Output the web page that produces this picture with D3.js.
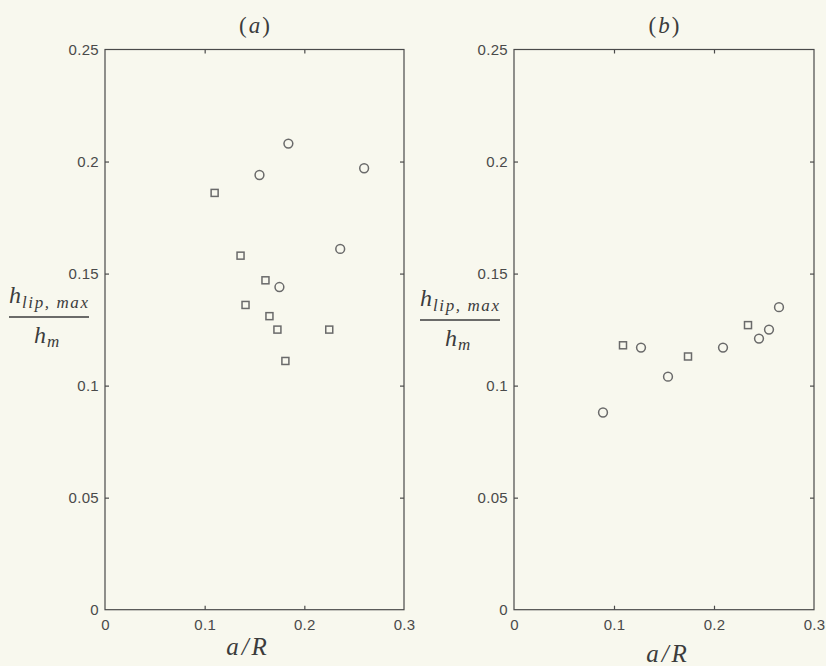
<!DOCTYPE html>
<html>
<head>
<meta charset="utf-8">
<script src="https://cdn.jsdelivr.net/npm/d3@7"></script>
<style>
  html, body { margin: 0; padding: 0; background: #f8f8ee; }
  svg { display: block; }
</style>
</head>
<body>
<svg id="chart" width="826" height="666"></svg>
<script>
// ---- data ----
const panelTitles = ["a", "b"];
const xTicks = [0, 0.1, 0.2, 0.3];
const yTicks = [0, 0.05, 0.1, 0.15, 0.2, 0.25];

const aCircleX = [0.155, 0.184, 0.260, 0.236, 0.175];
const aCircleY = [0.194, 0.208, 0.197, 0.161, 0.144];
const aSquareX = [0.110, 0.136, 0.161, 0.141, 0.165, 0.173, 0.225, 0.181];
const aSquareY = [0.186, 0.158, 0.147, 0.136, 0.131, 0.125, 0.125, 0.111];

const bCircleX = [0.089, 0.127, 0.154, 0.209, 0.245, 0.255, 0.265];
const bCircleY = [0.088, 0.117, 0.104, 0.117, 0.121, 0.125, 0.135];
const bSquareX = [0.109, 0.174, 0.234];
const bSquareY = [0.118, 0.113, 0.127];

// ---- layout ----
const svg = d3.select("#chart");
const plotTop = 49.5, plotBottom = 609.7;
const panels = [
  { key: "a", left: 105, right: 404, cx: aCircleX, cy: aCircleY, sx: aSquareX, sy: aSquareY,
    ylabX: 9, ylabLine: 317, xlabY: 655, xlabCx: 248 },
  { key: "b", left: 514, right: 814, cx: bCircleX, cy: bCircleY, sx: bSquareX, sy: bSquareY,
    ylabX: 420, ylabLine: 320, xlabY: 662, xlabCx: 668 }
];

const axisColor = "#4a4a4a";
const markColor = "#6a6a6a";
const textColor = "#3c3c3c";
const tickFont = "'Liberation Sans', Arial, Helvetica, sans-serif";
const serif = "'Liberation Serif', 'Times New Roman', serif";

panels.forEach((p, i) => {
  const x = d3.scaleLinear().domain([0, 0.3]).range([p.left, p.right]);
  const y = d3.scaleLinear().domain([0, 0.25]).range([plotBottom, plotTop]);
  const g = svg.append("g");

  // frame
  g.append("rect")
    .attr("x", x(0)).attr("y", y(0.25))
    .attr("width", x(0.3) - x(0)).attr("height", y(0) - y(0.25))
    .attr("fill", "none").attr("stroke", axisColor).attr("stroke-width", 1.2);

  const styleAxis = sel => {
    sel.attr("font-size", null).attr("font-family", null);
    sel.select(".domain").remove();
    sel.selectAll(".tick line").attr("stroke", axisColor).attr("stroke-width", 1.2);
    sel.selectAll(".tick text")
      .attr("fill", "#4a4a4a")
      .attr("font-family", tickFont)
      .attr("font-size", "15px")
      .attr("letter-spacing", "0.3px");
  };

  // bottom axis
  g.append("g").attr("transform", `translate(0,${y(0)})`)
    .call(d3.axisBottom(x).tickValues(xTicks).tickSize(-4).tickPadding(10)
      .tickFormat(d => d === 0 ? "0" : d3.format(".1f")(d)))
    .call(styleAxis)
    .call(s => s.selectAll(".tick").filter(d => d === 0 || d === 0.3).select("line").remove());

  // left axis
  g.append("g").attr("transform", `translate(${x(0)},0)`)
    .call(d3.axisLeft(y).tickValues(yTicks).tickSize(-4).tickPadding(6)
      .tickFormat(d => d === 0 ? "0" : String(+d.toFixed(2))))
    .call(styleAxis)
    .call(s => s.selectAll(".tick").filter(d => d === 0 || d === 0.25).select("line").remove());

  // top axis (ticks only)
  g.append("g").attr("transform", `translate(0,${y(0.25)})`)
    .call(d3.axisTop(x).tickValues([0.1, 0.2]).tickSize(-4).tickFormat(""))
    .call(styleAxis);

  // right axis (ticks only)
  g.append("g").attr("transform", `translate(${x(0.3)},0)`)
    .call(d3.axisRight(y).tickValues([0.05, 0.1, 0.15, 0.2]).tickSize(-4).tickFormat(""))
    .call(styleAxis);

  // circles
  const circ = p.cx.map((v, k) => ({ x: v, y: p.cy[k] }));
  g.selectAll("circle.pt").data(circ).join("circle")
    .attr("class", "pt")
    .attr("cx", d => x(d.x)).attr("cy", d => y(d.y)).attr("r", 4.4)
    .attr("fill", "none").attr("stroke", markColor).attr("stroke-width", 1.5);

  // squares
  const sq = p.sx.map((v, k) => ({ x: v, y: p.sy[k] }));
  const s = 7;
  g.selectAll("rect.pt").data(sq).join("rect")
    .attr("class", "pt")
    .attr("x", d => x(d.x) - s / 2).attr("y", d => y(d.y) - s / 2)
    .attr("width", s).attr("height", s)
    .attr("fill", "none").attr("stroke", markColor).attr("stroke-width", 1.5);

  // title (a)/(b)
  const t = g.append("text")
    .attr("x", (p.left + p.right) / 2).attr("y", 33)
    .attr("text-anchor", "middle")
    .attr("fill", textColor)
    .attr("font-family", serif).attr("font-size", "23px");
  t.append("tspan").text("(");
  t.append("tspan").attr("font-style", "italic").attr("dx", 2).text(panelTitles[i]);
  t.append("tspan").attr("dx", 2).text(")");

  // x-axis label a/R
  g.append("text")
    .attr("x", p.xlabCx).attr("y", p.xlabY)
    .attr("text-anchor", "middle")
    .attr("fill", textColor)
    .attr("font-family", serif).attr("font-style", "italic").attr("font-size", "25px")
    .attr("letter-spacing", "3px")
    .text("a/R");

  // y-axis label: h_{lip, max} / h_m
  const num = g.append("text")
    .attr("x", p.ylabX).attr("y", p.ylabLine - 14)
    .attr("fill", textColor)
    .attr("font-family", serif).attr("font-style", "italic").attr("font-size", "24px");
  num.append("tspan").text("h");
  num.append("tspan").attr("dy", 5).attr("dx", 1).attr("font-size", "17px")
    .attr("textLength", 66).attr("lengthAdjust", "spacing").text("lip, max");

  g.append("line")
    .attr("x1", p.ylabX).attr("x2", p.ylabX + 80)
    .attr("y1", p.ylabLine).attr("y2", p.ylabLine)
    .attr("stroke", textColor).attr("stroke-width", 1.3);

  const den = g.append("text")
    .attr("x", p.ylabX + 25).attr("y", p.ylabLine + 26)
    .attr("fill", textColor)
    .attr("font-family", serif).attr("font-style", "italic").attr("font-size", "24px");
  den.append("tspan").text("h");
  den.append("tspan").attr("dy", 4).attr("dx", 1).attr("font-size", "17px").text("m");
});
</script>
</body>
</html>
